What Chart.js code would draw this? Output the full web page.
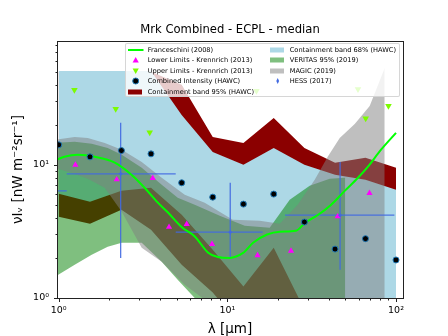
<!doctype html>
<html lang="en">
<head>
<meta charset="utf-8">
<title>Mrk Combined - ECPL - median</title>
<script src="https://cdn.jsdelivr.net/npm/chart.js@4.4.0/dist/chart.umd.min.js"></script>
<style>
    body { margin: 0; background: #fff; font-family: "DejaVu Sans", sans-serif; }
    #wrap { position: relative; width: 448px; height: 336px; }
    /* legend sits inside the plot, like matplotlib's */
    #legend {
        position: absolute; left: 125px; top: 43px; width: 275px; height: 54px;
        background: rgba(255,255,255,0.8); border: 1px solid rgba(204,204,204,0.8);
        border-radius: 2px; box-sizing: border-box;
    }
    .item { position: absolute; height: 10px; font-size: 6.65px; line-height: 10px; white-space: nowrap; color: #000; }
    .item svg { position: absolute; left: 0; top: 1px; }
    .item span { position: absolute; left: 19.7px; top: 0; }
</style>
</head>
<body>
<div id="wrap">
    <canvas id="chart" width="448" height="336"></canvas>
    <div id="legend"></div>
</div>

<script>
    // HAWC combined intensity + containment bands (same wavelengths)
    const hawcLam = [1.0, 1.533, 2.354, 3.526, 5.36, 8.19, 12.45, 18.83, 28.63, 43.5, 65.9, 100];
    const hawcI   = [14.13, 11.48, 12.8, 12.09, 7.33, 5.72, 5.07, 6.03, 3.72, 2.33, 2.79, 1.93];
    const hawc68Hi = [50.7, 50.7, 50.7, 50.7, 23.7, 12.5, 10.0, 13.4, 10.0, 8.41, 7.72, 6.49];
    const hawc68Lo = [6.06, 5.28, 6.38, 6.72, 4.22, 2.30, 1.22, 2.38, 0.82, 0.58, 0.58, 0.58];
    const hawc95Hi = [50, 50, 50, 50, 40, 16.2, 14.6, 22.5, 13.4, 10.35, 11.3, 9.5];
    const hawc95Lo = [4.07, 3.61, 4.60, 3.25, 1.78, 1.10, 0.58, 0.49, 0.35, 0.25, 0.25, 0.25];

    // VERITAS 95% (2019)
    const verLam = [0.95, 1.244, 1.569, 1.952, 2.364, 3.106, 4.081, 5.077, 6.404, 9.01, 12.67, 17.83, 23.43, 30.78, 40.45, 50.0];
    const verHi  = [14.6, 14.9, 14.4, 13.4, 11.9, 9.5, 7.08, 5.65, 5.01, 4.14, 3.49, 3.37, 5.46, 6.96, 7.85, 7.99];
    const verLo  = [1.445, 1.78, 2.11, 2.43, 2.60, 2.60, 1.87, 1.37, 1.0, 0.89, 0.8, 0.8, 0.8, 0.8, 0.8, 0.8];

    // MAGIC (2019)
    const magLam = [0.95, 1.244, 1.486, 1.874, 2.364, 3.106, 4.081, 5.587, 7.34, 10.76, 15.55, 20.43, 26.13, 32.96, 39.36, 46.37, 56.9, 69.8, 85.7];
    const magHi  = [15.4, 16.2, 15.9, 14.6, 12.96, 10.5, 7.99, 5.96, 5.19, 3.87, 3.80, 3.61, 5.01, 7.72, 11.5, 15.9, 20.3, 27.7, 53.4];
    const magLo  = [9.5, 8.56, 7.85, 6.72, 4.44, 2.38, 1.87, 1.26, 0.97, 0.7, 0.7, 0.7, 0.7, 0.7, 0.7, 0.7, 0.7, 0.7, 0.7];

    // Franceschini (2008) EBL model
    const franLam = [0.97, 1.08, 1.30, 1.64, 2.15, 2.71, 3.24, 3.87, 4.43, 5.37, 6.41, 7.66, 8.78, 10.3, 12.4, 14.2, 17.2, 20.5, 25.5, 28.8, 34.4, 41.1, 49.8, 59.5, 68.2, 81.5, 100];
    const franI   = [10.9, 11.5, 11.9, 11.5, 10.4, 8.4, 6.7, 5.2, 4.4, 3.4, 2.9, 2.2, 2.03, 2.0, 2.18, 2.6, 3.0, 3.15, 3.2, 3.65, 4.2, 5.0, 6.4, 8.0, 9.7, 13.0, 17.4];

    // Krennrich (2013) limits
    const lowLam = [1.256, 2.208, 3.61, 4.51, 5.74, 8.11, 15.1, 23.85, 45.1, 69.6];
    const lowI   = [10.0, 7.76, 7.95, 3.41, 3.59, 2.54, 2.09, 2.26, 4.09, 6.13];
    const upLam  = [1.239, 2.178, 3.464, 14.87, 59.5, 66.1, 90.2];
    const upI    = [36.5, 26.3, 17.5, 35.9, 37.0, 22.3, 27.7];

    // HESS (2017) with error bars
    const hessLam   = [0.75, 2.33, 10.4, 46.6];
    const hessI     = [6.38, 8.56, 3.12, 4.19];
    const hessLamLo = [0.45, 1.116, 4.94, 21.97];
    const hessLamHi = [1.116, 4.94, 16.2, 97.8];
    const hessILo   = [3.0, 2.0, 2.0, 1.63];
    const hessIHi   = [13.0, 20.7, 7.33, 10.5];

    const FONT = 'DejaVu Sans';
    const SUP = {0: '\u2070', 1: '\u00b9', 2: '\u00b2'};
    const pts = (xs, ys) => xs.map((x, i) => ({x: x, y: ys[i]}));

    function band(label, xs, hi, lo, color, order) {
        return [
            {label: label, data: pts(xs, hi), fill: '+1', backgroundColor: color,
             borderWidth: 0, borderColor: 'transparent', pointRadius: 0, order: order},
            {label: label + ' (low)', data: pts(xs, lo), fill: false,
             borderWidth: 0, borderColor: 'transparent', pointRadius: 0, order: order}
        ];
    }

    const datasets = [
        ...band('Containment band 95% (HAWC)', hawcLam, hawc95Hi, hawc95Lo, '#8b0000', 20),
        ...band('Containment band 68% (HAWC)', hawcLam, hawc68Hi, hawc68Lo, '#add8e6', 19),
        ...band('VERITAS 95% (2019)', verLam, verHi, verLo, 'rgba(0,128,0,0.5)', 18),
        ...band('MAGIC (2019)', magLam, magHi, magLo, 'rgba(128,128,128,0.5)', 17),
    ];

    // HESS error bars as short line segments
    hessLam.forEach((lam, i) => {
        const common = {showLine: true, fill: false, borderColor: 'rgba(65,105,225,0.9)', borderWidth: 1.3, pointRadius: 0, order: 6};
        datasets.push({label: 'HESS xerr ' + i, data: [{x: hessLamLo[i], y: hessI[i]}, {x: hessLamHi[i], y: hessI[i]}], ...common});
        datasets.push({label: 'HESS yerr ' + i, data: [{x: lam, y: hessILo[i]}, {x: lam, y: hessIHi[i]}], ...common});
    });

    datasets.push(
        {label: 'Franceschini (2008)', data: pts(franLam, franI), showLine: true, fill: false,
         borderColor: '#00ff00', borderWidth: 2, pointRadius: 0, cubicInterpolationMode: 'monotone', order: 5},
        {label: 'Lower Limits - Krennrich (2013)', data: pts(lowLam, lowI), showLine: false,
         pointStyle: 'triangle', pointRadius: 3.6, pointBackgroundColor: '#ff00ff', pointBorderWidth: 0, order: 3},
        {label: 'Upper Limits - Krennrich (2013)', data: pts(upLam, upI), showLine: false,
         pointStyle: 'triangle', pointRotation: 180, pointRadius: 3.8, pointBackgroundColor: '#7cfc00', pointBorderWidth: 0, order: 3},
        {label: 'Combined Intensity (HAWC)', data: pts(hawcLam, hawcI), showLine: false,
         pointStyle: 'circle', pointRadius: 3, pointBackgroundColor: '#000', pointBorderColor: '#1f77b4', pointBorderWidth: 1, order: 2},
        {label: 'HESS (2017)', data: pts(hessLam, hessI), showLine: false,
         pointStyle: 'rectRot', pointRadius: 2, pointBackgroundColor: 'royalblue', pointBorderWidth: 0, order: 1}
    );

    // box around the plot and matplotlib-like outward ticks
    const axisFrame = {
        id: 'axisFrame',
        afterDatasetsDraw(chart) {
            const {ctx, chartArea: a, scales: {x, y}} = chart;
            const L = Math.round(a.left) + 0.5, R = Math.round(a.right) + 0.5;
            const T = Math.round(a.top) + 0.5, B = Math.round(a.bottom) + 0.5;
            ctx.save();
            ctx.strokeStyle = '#222';
            ctx.lineWidth = 1;
            ctx.beginPath();
            for (let d = 1; d <= 100; d *= 10) {
                for (let k = 1; k < 10; k++) {
                    const v = d * k;
                    const len = k === 1 ? 3.5 : 2;
                    if (v >= x.min && v <= x.max) {
                        const px = Math.round(x.getPixelForValue(v)) + 0.5;
                        ctx.moveTo(px, B); ctx.lineTo(px, B + len);
                    }
                    if (v >= y.min && v <= y.max) {
                        const py = Math.round(y.getPixelForValue(v)) + 0.5;
                        ctx.moveTo(L, py); ctx.lineTo(L - len, py);
                    }
                }
            }
            ctx.stroke();
            ctx.strokeRect(L, T, R - L, B - T);
            ctx.restore();
        }
    };

    const powLabel = v => {
        const e = Math.round(Math.log10(v));
        return Math.abs(Math.log10(v) - e) < 1e-6 ? '10' + SUP[e] : '';
    };

    Chart.defaults.font.family = FONT;
    Chart.defaults.color = '#000';

    new Chart(document.getElementById('chart'), {
        type: 'line',
        data: {datasets: datasets},
        options: {
            responsive: false,
            animation: false,
            events: [],
            layout: {padding: {left: 0, right: 45, top: 0, bottom: 0}},
            plugins: {
                legend: {display: false},
                tooltip: {enabled: false},
                title: {
                    display: true, fullSize: false,
                    text: 'Mrk Combined - ECPL - median',
                    font: {family: FONT, size: 11.6, weight: 'normal'},
                    color: '#000',
                    padding: {top: 23, bottom: 4}
                }
            },
            scales: {
                x: {
                    type: 'logarithmic', min: 0.977, max: 110,
                    grid: {display: false, drawTicks: false},
                    border: {display: false},
                    afterBuildTicks: s => { s.ticks = [1, 10, 100].map(v => ({value: v})); },
                    afterFit: s => { s.height = 38; },
                    ticks: {autoSkip: false, maxRotation: 0, padding: 7, font: {size: 9.5}, callback: powLabel},
                    title: {display: true, text: 'λ [μm]', font: {size: 13.5, lineHeight: 1}, padding: {top: 0, bottom: 0}}
                },
                y: {
                    type: 'logarithmic', min: 1, max: 85.2,
                    grid: {display: false, drawTicks: false},
                    border: {display: false},
                    afterBuildTicks: s => { s.ticks = [1, 10].map(v => ({value: v})); },
                    afterFit: s => { s.width = 57; },
                    ticks: {autoSkip: false, padding: 8, font: {size: 9.5}, callback: powLabel},
                    title: {display: true, text: 'νIᵥ [nW m⁻²sr⁻¹]', font: {size: 13.5}, padding: {top: 10, bottom: 0}}
                }
            }
        },
        plugins: [axisFrame]
    });

    // legend drawn as html over the plot
    const legendItems = [
        {col: 0, row: 0, kind: 'line', color: '#00ff00', text: 'Franceschini (2008)'},
        {col: 0, row: 1, kind: 'tri', color: '#ff00ff', text: 'Lower Limits - Krennrich (2013)'},
        {col: 0, row: 2, kind: 'tridown', color: '#7cfc00', text: 'Upper Limits - Krennrich (2013)'},
        {col: 0, row: 3, kind: 'dot', color: '#000', text: 'Combined Intensity (HAWC)'},
        {col: 0, row: 4, kind: 'patch', color: '#8b0000', text: 'Containment band 95% (HAWC)'},
        {col: 1, row: 0, kind: 'patch', color: '#add8e6', text: 'Containment band 68% (HAWC)'},
        {col: 1, row: 1, kind: 'patch', color: 'rgba(0,128,0,0.5)', text: 'VERITAS 95% (2019)'},
        {col: 1, row: 2, kind: 'patch', color: 'rgba(128,128,128,0.5)', text: 'MAGIC (2019)'},
        {col: 1, row: 3, kind: 'diamond', color: 'royalblue', text: 'HESS (2017)'}
    ];
    const handles = {
        line: c => `<line x1="0" y1="4" x2="15.5" y2="4" stroke="${c}" stroke-width="2"/>`,
        tri: c => `<polygon points="7.7,1 10.8,6.6 4.6,6.6" fill="${c}"/>`,
        tridown: c => `<polygon points="4.6,1.4 10.8,1.4 7.7,7" fill="${c}"/>`,
        dot: c => `<circle cx="7.7" cy="4" r="3" fill="${c}" stroke="#1f77b4" stroke-width="1"/>`,
        patch: c => `<rect x="0" y="1.5" width="14" height="5" fill="${c}"/>`,
        diamond: c => `<polygon points="7.7,1 9.1,4 7.7,7 6.3,4" fill="${c}"/>`
    };
    const rowTop = [1, 11.4, 21.8, 32.2, 42.6];
    const colLeft = [2, 144];
    document.getElementById('legend').innerHTML = legendItems.map(it =>
        `<div class="item" style="left:${colLeft[it.col]}px;top:${rowTop[it.row]}px">` +
        `<svg width="16" height="8">${handles[it.kind](it.color)}</svg><span>${it.text}</span></div>`
    ).join('');
</script>
</body>
</html>
